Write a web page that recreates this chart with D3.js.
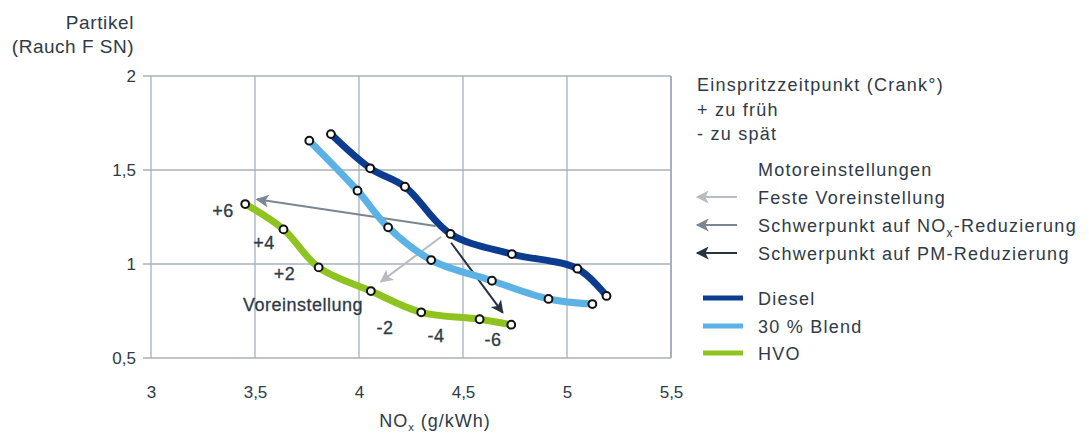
<!DOCTYPE html>
<html><head><meta charset="utf-8">
<script src="https://cdn.jsdelivr.net/npm/d3@7"></script>
<style>
body{margin:0;background:#fff;}
svg text{font-family:"Liberation Sans",Arial,sans-serif;fill:#2e3a47;}
</style></head>
<body><svg id="c" width="1089" height="435"></svg>
<script>
// ---- data ----
const xTicks = [3, 3.5, 4, 4.5, 5, 5.5];
const yTicks = [0.5, 1, 1.5, 2];
const dieselX = [3.865, 4.054, 4.221, 4.440, 4.735, 5.050, 5.190];
const dieselY = [1.691, 1.509, 1.411, 1.160, 1.053, 0.975, 0.830];
const blendX = [3.761, 3.993, 4.140, 4.347, 4.639, 4.911, 5.122];
const blendY = [1.656, 1.390, 1.195, 1.021, 0.911, 0.814, 0.787];
const hvoX = [3.453, 3.637, 3.806, 4.057, 4.299, 4.580, 4.732];
const hvoY = [1.319, 1.184, 0.982, 0.856, 0.743, 0.706, 0.677];
const seriesNames = ["Diesel", "30 % Blend", "HVO"];
const seriesColors = ["#0b3c8f", "#5cb2e5", "#8fc31f"];
// arrows
const arrowNames = ["Feste Voreinstellung", "Schwerpunkt auf NOx-Reduzierung", "Schwerpunkt auf PM-Reduzierung"];
const arrowColors = ["#b6bcc2", "#7a8692", "#27333f"];
const arrowFrom = [[4.395, 1.145], [4.368, 1.202], [4.443, 1.113]];
const arrowTo = [[4.105, 0.906], [3.509, 1.344], [4.691, 0.741]];
// timing annotations
const annoText = ["+6", "+4", "+2", "Voreinstellung", "-2", "-4", "-6"];
const annoX = [3.346, 3.543, 3.642, 3.731, 4.125, 4.370, 4.644];
const annoY = [1.287, 1.112, 0.952, 0.787, 0.660, 0.622, 0.596];

// ---- layout ----
const svg = d3.select("#c");
const x = d3.scaleLinear().domain([3, 5.5]).range([151, 671]);
const y = d3.scaleLinear().domain([0.5, 2]).range([358, 76]);
const gridColor = "#a7b0ba";
const fmt = d => String(d).replace(".", ",");

// grid
const g = svg.append("g");
g.selectAll(".hg").data(yTicks).join("line")
  .attr("x1", 143).attr("x2", x(5.5)).attr("y1", d => y(d)).attr("y2", d => y(d))
  .attr("stroke", gridColor).attr("stroke-width", 1.3);
g.selectAll(".vg").data(xTicks).join("line")
  .attr("x1", d => x(d)).attr("x2", d => x(d)).attr("y1", y(2)).attr("y2", y(0.5))
  .attr("stroke", gridColor).attr("stroke-width", (d, i) => i === xTicks.length - 1 ? 2 : 1.3);

// axes labels
const yAxis = svg.append("g").attr("transform", "translate(138,0)")
  .call(d3.axisLeft(y).tickValues(yTicks).tickSize(0).tickFormat(fmt));
yAxis.select(".domain").remove();
yAxis.selectAll("text").attr("font-size", 17).attr("fill", "#2e3a47").attr("x", -2)
  .style("font-family", "Liberation Sans, Arial, sans-serif");
const xAxis = svg.append("g").attr("transform", "translate(0,383)")
  .call(d3.axisBottom(x).tickValues(xTicks).tickSize(0).tickFormat(fmt));
xAxis.select(".domain").remove();
xAxis.selectAll("text").attr("font-size", 17).attr("fill", "#2e3a47")
  .style("font-family", "Liberation Sans, Arial, sans-serif");

// axis titles
svg.append("text").attr("x", 134).attr("y", 29).attr("text-anchor", "end").attr("font-size", 19).attr("letter-spacing", 0.6).text("Partikel");
svg.append("text").attr("x", 134).attr("y", 53).attr("text-anchor", "end").attr("font-size", 19).attr("letter-spacing", 0.5).text("(Rauch F SN)");
const xt = svg.append("text").attr("x", 435).attr("y", 427).attr("text-anchor", "middle").attr("font-size", 18).attr("letter-spacing", 1);
xt.append("tspan").text("NO");
xt.append("tspan").attr("font-size", 11).attr("dy", 4).text("x");
xt.append("tspan").attr("dy", -4).text(" (g/kWh)");

// arrows
const defs = svg.append("defs");
arrowColors.forEach((c, i) => {
  defs.append("marker").attr("id", "ah" + i).attr("viewBox", "0 0 10 10")
    .attr("refX", 9).attr("refY", 5).attr("markerWidth", 7).attr("markerHeight", 6.5)
    .attr("markerUnits", "strokeWidth").attr("orient", "auto")
    .append("path").attr("d", "M0,0 L10,5 L0,10 L2.5,5 Z").attr("fill", c);
});
svg.append("g").selectAll("line").data(arrowColors).join("line")
  .attr("x1", (d, i) => x(arrowFrom[i][0])).attr("y1", (d, i) => y(arrowFrom[i][1]))
  .attr("x2", (d, i) => x(arrowTo[i][0])).attr("y2", (d, i) => y(arrowTo[i][1]))
  .attr("stroke", d => d).attr("stroke-width", 2).attr("marker-end", (d, i) => `url(#ah${i})`);

// series
const allSeries = [[dieselX, dieselY], [blendX, blendY], [hvoX, hvoY]];
const line = d3.line().x(d => x(d[0])).y(d => y(d[1])).curve(d3.curveCatmullRom.alpha(0.5));
[2, 1, 0].forEach(si => {
  const pts = allSeries[si][0].map((v, k) => [v, allSeries[si][1][k]]);
  svg.append("path").datum(pts).attr("d", line).attr("fill", "none")
    .attr("stroke", seriesColors[si]).attr("stroke-width", 7).attr("stroke-linecap", "butt");
});
[2, 1, 0].forEach(si => {
  const pts = allSeries[si][0].map((v, k) => [v, allSeries[si][1][k]]);
  svg.append("g").selectAll("circle").data(pts).join("circle")
    .attr("cx", d => x(d[0])).attr("cy", d => y(d[1])).attr("r", 3.9)
    .attr("fill", "#fff").attr("stroke", "#111").attr("stroke-width", 2);
});

// annotations
svg.append("g").selectAll("text").data(annoText).join("text")
  .attr("x", (d, i) => x(annoX[i])).attr("y", (d, i) => y(annoY[i]) + 6.5)
  .attr("text-anchor", "middle").attr("font-size", 18).attr("letter-spacing", 0.5)
  .attr("fill", "#2e3a47").attr("stroke", "#2e3a47").attr("stroke-width", 0.3).text(d => d);

// legend
const lx = 697;
const L = svg.append("g").attr("font-size", 18).attr("letter-spacing", 1.25);
[["Einspritzzeitpunkt (Crank°)", 91], ["+ zu früh", 116], ["- zu spät", 140]].forEach(([t, yy]) =>
  L.append("text").attr("x", lx).attr("y", yy).text(t));
L.append("text").attr("x", 758).attr("y", 176).text("Motoreinstellungen");
const arrowY = [197, 225, 253];
arrowNames.forEach((n, i) => {
  L.append("line").attr("x1", 737).attr("x2", 697).attr("y1", arrowY[i]).attr("y2", arrowY[i])
    .attr("stroke", arrowColors[i]).attr("stroke-width", 2).attr("marker-end", `url(#ah${i})`);
  const t = L.append("text").attr("x", 758).attr("y", arrowY[i] + 6.5);
  if (n.indexOf("NOx") >= 0) {
    t.append("tspan").text("Schwerpunkt auf NO");
    t.append("tspan").attr("font-size", 12).attr("dy", 5).text("x");
    t.append("tspan").attr("dy", -5).text("-Reduzierung");
  } else t.text(n);
});
const legY = [298, 326, 353];
seriesNames.forEach((n, i) => {
  L.append("line").attr("x1", 703).attr("x2", 743).attr("y1", legY[i]).attr("y2", legY[i])
    .attr("stroke", seriesColors[i]).attr("stroke-width", 5);
  L.append("text").attr("x", 758).attr("y", legY[i] + 6.5).text(n);
});
</script></body></html>
